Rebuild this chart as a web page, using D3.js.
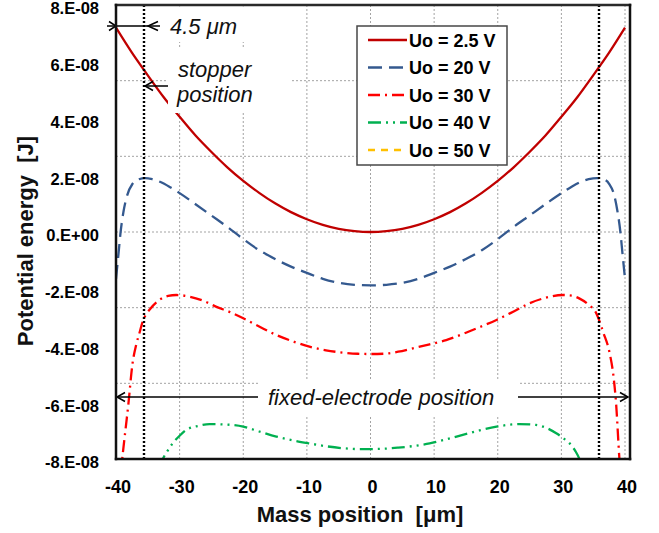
<!DOCTYPE html>
<html>
<head>
<meta charset="utf-8">
<script src="https://cdn.jsdelivr.net/npm/d3@7"></script>
<style>
  html, body { margin: 0; background: #fff; }
  svg { display: block; }
  text { font-family: "Liberation Sans", Arial, sans-serif; }
</style>
</head>
<body>
<svg id="chart" width="659" height="533"></svg>
<script>
// Potential energy of the movable mass versus its position, for several drive voltages Uo.

// Axis ticks
const massTicks = [-40, -30, -20, -10, 0, 10, 20, 30, 40];                 // μm
const energyTicks = [-8e-8, -6e-8, -4e-8, -2e-8, 0, 2e-8, 4e-8, 6e-8, 8e-8]; // J
const gridPositions = [-30, -20, -10, 0, 10, 20, 30, 40];
const gridEnergies = [-5.333e-8, -2.667e-8, 0, 2.667e-8, 5.333e-8];

// Mechanical stoppers, 4.5 μm in front of the fixed electrodes
const stopperPositions = [-35.6, 35.85];

const seriesLabels = ["Uo = 2.5 V", "Uo = 20 V", "Uo = 30 V", "Uo = 40 V", "Uo = 50 V"];

// [mass position (μm), potential energy (J)]
const energy2p5V = [
  [-40, 7.20e-8], [-37.5, 6.32e-8], [-35, 5.52e-8], [-32.5, 4.75e-8], [-30, 4.06e-8],
  [-27.5, 3.40e-8], [-25, 2.82e-8], [-22.5, 2.28e-8], [-20, 1.80e-8], [-17.5, 1.38e-8],
  [-15, 1.01e-8], [-12.5, 0.70e-8], [-10, 0.45e-8], [-7.5, 0.25e-8], [-5, 0.11e-8],
  [-2.5, 0.03e-8], [0, 0], [2.5, 0.03e-8], [5, 0.11e-8], [7.5, 0.25e-8], [10, 0.45e-8],
  [12.5, 0.70e-8], [15, 1.01e-8], [17.5, 1.38e-8], [20, 1.80e-8], [22.5, 2.28e-8],
  [25, 2.82e-8], [27.5, 3.40e-8], [30, 4.06e-8], [32.5, 4.75e-8], [35, 5.52e-8],
  [37.5, 6.32e-8], [40, 7.20e-8]
];
const energy20V = [
  [-40, -1.65e-8], [-39.6, -0.75e-8], [-39.3, -0.05e-8], [-38.8, 0.75e-8], [-38.3, 1.25e-8],
  [-37.4, 1.70e-8], [-36.4, 1.86e-8], [-35.4, 1.90e-8], [-34.3, 1.86e-8], [-33, 1.76e-8],
  [-31.5, 1.58e-8], [-30, 1.37e-8], [-27.5, 0.98e-8], [-25, 0.58e-8], [-22.5, 0.18e-8],
  [-20, -0.25e-8], [-17.5, -0.64e-8], [-15, -0.95e-8], [-12.5, -1.22e-8], [-10, -1.44e-8],
  [-7.5, -1.65e-8], [-5, -1.79e-8], [-2.5, -1.86e-8], [0, -1.88e-8], [2.5, -1.86e-8],
  [5, -1.79e-8], [7.5, -1.65e-8], [10, -1.44e-8], [12.5, -1.22e-8], [15, -0.95e-8],
  [17.5, -0.64e-8], [20, -0.25e-8], [22.5, 0.18e-8], [25, 0.58e-8], [27.5, 0.98e-8],
  [30, 1.37e-8], [31.5, 1.58e-8], [33, 1.76e-8], [34.3, 1.86e-8], [35.6, 1.90e-8],
  [36.6, 1.86e-8], [37.5, 1.70e-8], [38.3, 1.30e-8], [38.8, 0.75e-8], [39.3, -0.05e-8],
  [39.6, -0.75e-8], [40, -1.65e-8]
];
const energy30V = [
  [-39.3, -8.6e-8], [-38.9, -7.74e-8], [-38.5, -6.95e-8], [-38.1, -6.16e-8], [-37.4, -4.63e-8],
  [-36.8, -3.95e-8], [-36.3, -3.55e-8], [-35.8, -3.15e-8], [-35.2, -2.88e-8], [-34.7, -2.73e-8],
  [-33.2, -2.40e-8], [-31.8, -2.25e-8], [-30.5, -2.22e-8], [-28.4, -2.28e-8], [-26, -2.45e-8],
  [-24.3, -2.63e-8], [-22, -2.83e-8], [-20, -3.04e-8], [-17.5, -3.33e-8], [-14.8, -3.63e-8],
  [-12, -3.87e-8], [-9.6, -4.04e-8], [-7, -4.17e-8], [-4.35, -4.25e-8], [-2, -4.29e-8],
  [0, -4.30e-8], [2, -4.29e-8], [4.35, -4.22e-8], [6.65, -4.10e-8], [9.3, -3.96e-8],
  [11.9, -3.81e-8], [15, -3.55e-8], [17.5, -3.32e-8], [19.8, -3.10e-8], [22.5, -2.80e-8],
  [25, -2.51e-8], [27.5, -2.32e-8], [30.2, -2.22e-8], [31.6, -2.24e-8], [32.8, -2.34e-8],
  [34.2, -2.55e-8], [35.5, -2.87e-8], [36.6, -3.55e-8], [37.6, -4.28e-8], [38.2, -5.10e-8],
  [38.6, -6.04e-8], [39.1, -7.92e-8], [39.4, -8.8e-8]
];
const energy40V = [
  [-33.2, -8.3e-8], [-32.6, -7.98e-8], [-31.8, -7.68e-8], [-31.1, -7.45e-8], [-30, -7.18e-8],
  [-29, -6.98e-8], [-27, -6.83e-8], [-25.3, -6.77e-8], [-23.2, -6.78e-8], [-20, -6.86e-8],
  [-17.5, -7.03e-8], [-14.8, -7.21e-8], [-12, -7.35e-8], [-9.6, -7.45e-8], [-7, -7.55e-8],
  [-4.35, -7.62e-8], [-2, -7.65e-8], [0, -7.65e-8], [2, -7.64e-8], [4.35, -7.60e-8],
  [6.5, -7.55e-8], [9.3, -7.45e-8], [12, -7.30e-8], [14.5, -7.15e-8], [17, -7.00e-8],
  [19.8, -6.86e-8], [23.4, -6.77e-8], [26, -6.80e-8], [27.8, -6.92e-8], [29.2, -7.09e-8],
  [30.4, -7.28e-8], [31.3, -7.45e-8], [32.2, -7.72e-8], [32.8, -7.98e-8], [33.3, -8.3e-8]
];
// At 50 V the whole curve lies below -8E-08 J, so only its legend entry shows.
const energy50V = [];

const seriesData = [energy2p5V, energy20V, energy30V, energy40V, energy50V];
const seriesStyles = [
  { color: "#c00000", dash: null },
  { color: "#34598f", dash: "14,7" },
  { color: "#ff0000", dash: "12,5,2,5" },
  { color: "#00b050", dash: "13,5,2,5,2,5" },
  { color: "#ffc000", dash: "7,6" }
];

const svg = d3.select("#chart");
svg.append("rect").attr("width", 659).attr("height", 533).attr("fill", "#fff");

const x = d3.scaleLinear().domain([-40, 40]).range([116, 625]);
const y = d3.scaleLinear().domain([-8e-8, 8e-8]).range([459, 5]);
const plotLeft = x(-40), plotRight = x(40) + 5, plotTop = y(8e-8), plotBottom = y(-8e-8);

// Grid
const grid = svg.append("g").attr("stroke", "#a3a3a3").attr("stroke-width", 1).attr("stroke-dasharray", "2,2");
grid.selectAll("line.v").data(gridPositions).join("line").attr("class", "v")
  .attr("x1", d => x(d)).attr("x2", d => x(d)).attr("y1", plotTop).attr("y2", plotBottom);
grid.selectAll("line.h").data(gridEnergies).join("line").attr("class", "h")
  .attr("x1", plotLeft).attr("x2", plotRight).attr("y1", d => y(d)).attr("y2", d => y(d));

// Curves
svg.append("clipPath").attr("id", "plotClip").append("rect")
  .attr("x", plotLeft).attr("y", plotTop).attr("width", plotRight - plotLeft).attr("height", plotBottom - plotTop);

const line = d3.line().x(d => x(d[0])).y(d => y(d[1])).curve(d3.curveMonotoneX);
svg.append("g").attr("clip-path", "url(#plotClip)")
  .selectAll("path").data(seriesData).join("path")
  .attr("d", d => d.length ? line(d) : null)
  .attr("fill", "none")
  .attr("stroke", (d, i) => seriesStyles[i].color)
  .attr("stroke-width", 2.3)
  .attr("stroke-dasharray", (d, i) => seriesStyles[i].dash);

// Stopper positions
svg.append("g").selectAll("line").data(stopperPositions).join("line")
  .attr("x1", d => Math.round(x(d))).attr("x2", d => Math.round(x(d)))
  .attr("y1", plotTop).attr("y2", plotBottom)
  .attr("stroke", "#000").attr("stroke-width", 2.4).attr("stroke-dasharray", "2,2");

// Annotations
const notes = svg.append("g");
function whiteBox(x0, y0, x1, y1) {
  notes.append("rect").attr("x", x0).attr("y", y0).attr("width", x1 - x0).attr("height", y1 - y0).attr("fill", "#fff");
}
function noteText(tx, ty, str) {
  notes.append("text").attr("x", tx).attr("y", ty).attr("font-size", 22).attr("font-style", "italic")
    .attr("fill", "#111").text(str);
}
function arrowLine(xa, xb, yy) {
  notes.append("line").attr("x1", xa).attr("x2", xb).attr("y1", yy).attr("y2", yy)
    .attr("stroke", "#000").attr("stroke-width", 1.5);
}
function arrowHead(tip, yy, dir, len) {
  notes.append("path")
    .attr("d", `M${tip - dir * len},${yy - 4.5}L${tip},${yy}L${tip - dir * len},${yy + 4.5}`)
    .attr("fill", "none").attr("stroke", "#000").attr("stroke-width", 1.5);
}

const sL = x(stopperPositions[0]);
// 4.5 μm gap between electrode and stopper
whiteBox(163, plotTop + 1.5, 300, 42);
arrowLine(plotLeft - 9, sL + 16, 26);
arrowHead(plotLeft, 26, 1, 7);
arrowHead(sL + 4, 26, -1, 10);
noteText(170, 34, "4.5 μm");

// stopper label
whiteBox(168, 48, 290, 113);
arrowLine(sL + 1, 168, 86);
arrowHead(sL + 1, 86, -1, 8);
noteText(178, 77, "stopper");
noteText(177, 102, "position");

// fixed-electrode label
whiteBox(258, 380, 518, 417);
arrowLine(plotLeft + 1, 258, 397);
arrowHead(plotLeft + 1, 397, -1, 8);
arrowLine(518, plotRight - 2, 397);
arrowHead(plotRight - 2, 397, 1, 8);
noteText(268, 405, "fixed-electrode position");

// Legend
const legend = svg.append("g");
legend.append("rect").attr("x", 357).attr("y", 26).attr("width", 150).attr("height", 139)
  .attr("fill", "#fff").attr("stroke", "#474747").attr("stroke-width", 1.5);
const rows = legend.selectAll("g").data(seriesLabels).join("g")
  .attr("transform", (d, i) => `translate(0,${40 + i * 27.5})`);
rows.append("line").attr("x1", 368).attr("x2", 407).attr("y1", 0).attr("y2", 0)
  .attr("stroke", (d, i) => seriesStyles[i].color).attr("stroke-width", 2.3)
  .attr("stroke-dasharray", (d, i) => seriesStyles[i].dash);
rows.append("text").attr("x", 409).attr("y", 6.5).attr("font-size", 18).attr("font-weight", "bold")
  .attr("fill", "#000").text(d => d);

// Axes
const xAxis = d3.axisBottom(x).tickValues(massTicks).tickSize(0).tickPadding(21).tickFormat(d => String(d));
svg.append("g").attr("transform", `translate(0,${plotBottom})`).call(xAxis)
  .call(g => g.select(".domain").remove())
  .call(g => g.attr("font-family", null).attr("font-size", null))
  .selectAll("text").attr("font-size", 18).attr("font-weight", "bold").attr("fill", "#000").attr("dx", 1.5);

const energyFormat = v => {
  const m = Math.round(v / 1e-8);
  return m === 0 ? "0.E+00" : `${m}.E-08`;
};
const yAxis = d3.axisLeft(y).tickValues(energyTicks).tickSize(0).tickPadding(17).tickFormat(energyFormat);
svg.append("g").attr("transform", `translate(${plotLeft},0)`).call(yAxis)
  .call(g => g.select(".domain").remove())
  .call(g => g.attr("font-family", null).attr("font-size", null))
  .selectAll("text").attr("font-size", 16.5).attr("font-weight", "bold").attr("fill", "#000").attr("y", 3.5);

// Frame
const frame = svg.append("g").attr("stroke", "#111").attr("stroke-width", 2.5).attr("stroke-linecap", "square");
frame.append("line").attr("x1", plotLeft).attr("x2", plotRight).attr("y1", plotTop).attr("y2", plotTop).attr("stroke", "#2a2a2a");
frame.append("line").attr("x1", plotLeft).attr("x2", plotRight).attr("y1", plotBottom).attr("y2", plotBottom);
frame.append("line").attr("x1", plotLeft).attr("x2", plotLeft).attr("y1", plotTop).attr("y2", plotBottom);
frame.append("line").attr("x1", plotRight).attr("x2", plotRight).attr("y1", plotTop).attr("y2", plotBottom);

// Axis titles
svg.append("text").attr("x", 360).attr("y", 522).attr("text-anchor", "middle")
  .attr("font-size", 22).attr("font-weight", "bold").style("white-space", "pre")
  .attr("fill", "#111").text("Mass position  [μm]");
svg.append("text").attr("transform", "translate(33,241) rotate(-90)").attr("text-anchor", "middle")
  .attr("font-size", 22).attr("font-weight", "bold").style("white-space", "pre")
  .attr("fill", "#111").text("Potential energy  [J]");
</script>
</body>
</html>
